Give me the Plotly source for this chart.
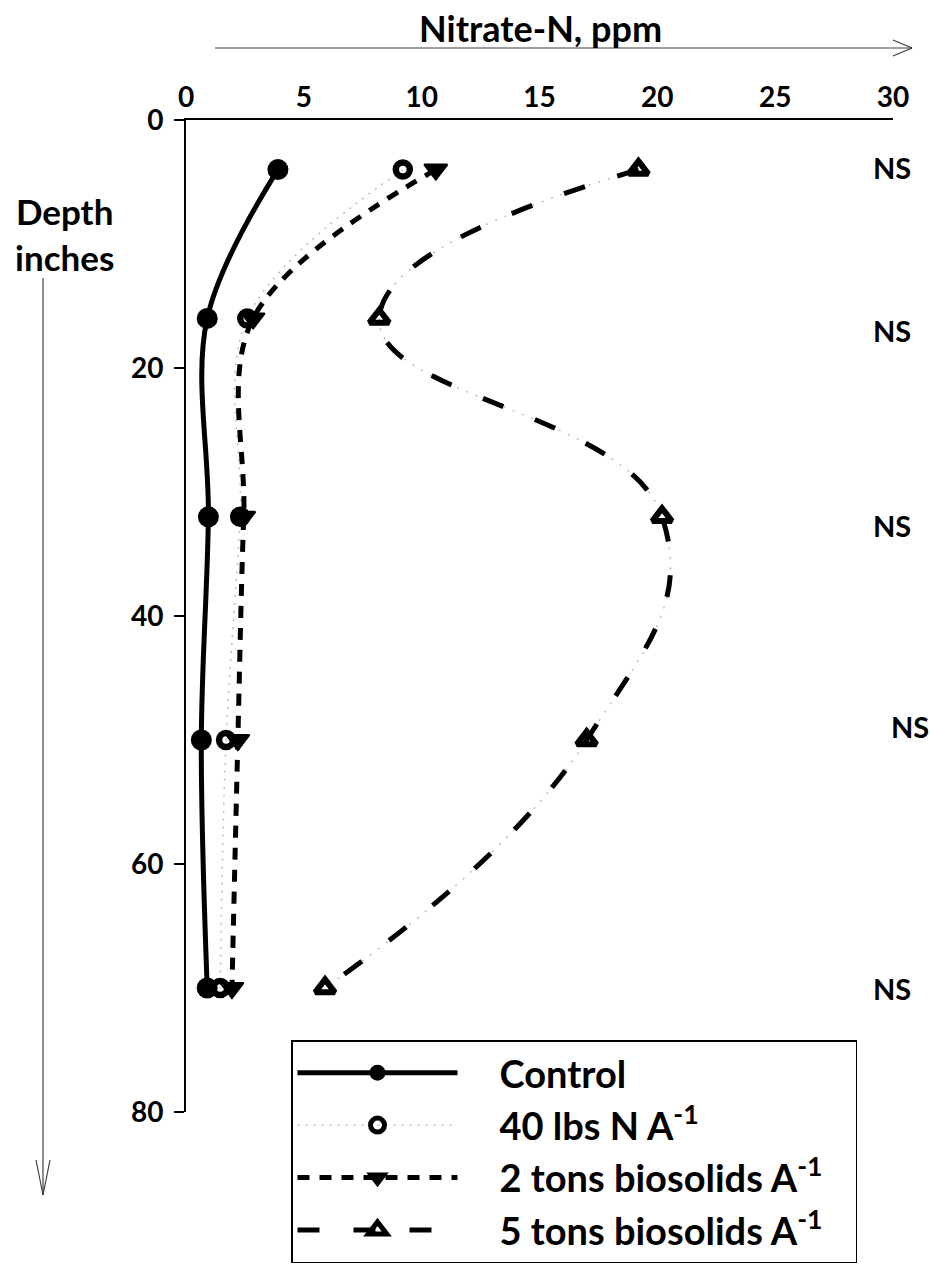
import plotly.graph_objects as go

# ---- data ----
depth = [4, 16, 32, 50, 70]
control = [3.9, 0.9, 0.95, 0.65, 0.9]
lbs40 = [9.2, 2.6, 2.3, 1.7, 1.45]
tons2 = [10.6, 2.85, 2.45, 2.2, 1.95]
tons5 = [19.2, 8.2, 20.2, 17.0, 5.9]
x_ticks = [0, 5, 10, 15, 20, 25, 30]
y_ticks = [0, 20, 40, 60, 80]
ns_labels = ["NS", "NS", "NS", "NS", "NS"]

FONT = "Lato"
W, H = 930, 1280
L, T = 186, 120
R = W - 893
B = H - 1112
PW, PH = W - L - R, H - T - B


def px(x):  # page pixel -> paper x
    return (x - L) / PW


def py(y):  # page pixel -> paper y
    return (H - B - y) / PH


SM = 1.3
fig = go.Figure()

fig.add_trace(go.Scatter(
    x=control, y=depth, name="Control", mode="lines+markers",
    line=dict(color="black", width=5, shape="spline", smoothing=1),
    marker=dict(symbol="circle", size=21, color="black"),
    legendgroup="a"))

fig.add_trace(go.Scatter(
    x=lbs40, y=depth, name="40 lbs N A<sup>-1</sup>", mode="lines+markers",
    line=dict(color="#bdbdbd", width=1.5, dash="2px,6px", shape="spline", smoothing=1),
    marker=dict(symbol="circle-open", size=14, color="black", line=dict(width=6.5, color="black")),
    legendgroup="b"))

fig.add_trace(go.Scatter(
    x=tons2, y=depth, name="2 tons biosolids A<sup>-1</sup>", mode="lines+markers",
    line=dict(color="black", width=5, dash="12px,10px", shape="spline", smoothing=1),
    marker=dict(symbol="triangle-down", size=20, color="black", line=dict(width=2, color="black")),
    legendgroup="c"))

# faint dotted companion of the 5-ton dash-dot line
fig.add_trace(go.Scatter(
    x=tons5, y=depth, mode="lines", showlegend=False, hoverinfo="skip",
    line=dict(color="#bdbdbd", width=1.5, dash="2px,8px", shape="spline", smoothing=SM)))

fig.add_trace(go.Scatter(
    x=tons5, y=depth, name="5 tons biosolids A<sup>-1</sup>", mode="lines+markers",
    line=dict(color="black", width=5, dash="22px,34px", shape="spline", smoothing=SM),
    marker=dict(symbol="triangle-up-open", size=17, color="black", line=dict(width=6, color="black")),
    legendgroup="d"))

fig.update_layout(
    width=W, height=H,
    margin=dict(l=L, r=R, t=T, b=B),
    plot_bgcolor="white", paper_bgcolor="white",
    font=dict(family=FONT, size=28, color="black", weight="bold"),
    showlegend=True,
    legend=dict(
        x=px(291), y=py(1040), xanchor="left", yanchor="top",
        bordercolor="black", borderwidth=1.5, bgcolor="white",
        font=dict(family=FONT, size=38, color="black", weight="bold"),
        itemwidth=160, tracegroupgap=1, traceorder="normal",
    ),
    xaxis=dict(
        side="top", range=[0, 30], tickvals=x_ticks, ticktext=[str(v) for v in x_ticks],
        showgrid=False, zeroline=False, showline=True, linecolor="black", linewidth=2,
        ticks="", ticklabelstandoff=0,
        tickfont=dict(family=FONT, size=28, color="black", weight="bold"),
    ),
    yaxis=dict(
        range=[80, 0], tickvals=y_ticks, ticktext=[str(v) for v in y_ticks],
        showgrid=False, zeroline=False, showline=True, linecolor="black", linewidth=2,
        ticks="outside", ticklen=10, tickwidth=2, tickcolor="black", ticklabelstandoff=5,
        tickfont=dict(family=FONT, size=28, color="black", weight="bold"),
    ),
)

# legend entries: pad the label away from the sample line (and widen the box a bit)
for tr in fig.data:
    if tr.showlegend is not False and tr.name:
        tr.name = "&nbsp;&nbsp;&nbsp;&nbsp;" + tr.name
fig.data[-1].name = fig.data[-1].name + "&nbsp;&nbsp;&nbsp;"

ann = []
ann.append(dict(text="Nitrate-N, ppm", x=px(540), y=py(28), xref="paper", yref="paper",
                xanchor="center", yanchor="middle",
                showarrow=False, font=dict(size=36, family=FONT, weight="bold")))
ann.append(dict(text="Depth<br>inches", x=px(64), y=py(234), xref="paper", yref="paper",
                xanchor="center", yanchor="middle",
                showarrow=False, align="center", font=dict(size=35, family=FONT, weight="bold")))
ns_x = [892, 892, 892, 910, 892]
ns_shift = [2, -12, -9, 14, 0]
for lab, d, nx, sh in zip(ns_labels, depth, ns_x, ns_shift):
    ann.append(dict(text=lab, x=px(nx), y=d, xref="paper", yref="y", yshift=sh,
                    xanchor="center", yanchor="middle",
                    showarrow=False, font=dict(size=29, family=FONT, weight="bold")))
fig.update_layout(annotations=ann)

shapes = []
lc = dict(color="#404040", width=1.2)
# horizontal arrow
shapes.append(dict(type="line", xref="paper", yref="paper", x0=px(215), x1=px(912), y0=py(48), y1=py(48), line=lc))
shapes.append(dict(type="line", xref="paper", yref="paper", x0=px(893), x1=px(912), y0=py(40), y1=py(48), line=lc))
shapes.append(dict(type="line", xref="paper", yref="paper", x0=px(893), x1=px(912), y0=py(56), y1=py(48), line=lc))
# vertical arrow
shapes.append(dict(type="line", xref="paper", yref="paper", x0=px(43), x1=px(43), y0=py(278), y1=py(1195), line=lc))
shapes.append(dict(type="line", xref="paper", yref="paper", x0=px(36), x1=px(43), y0=py(1160), y1=py(1195), line=lc))
shapes.append(dict(type="line", xref="paper", yref="paper", x0=px(50), x1=px(43), y0=py(1160), y1=py(1195), line=lc))
fig.update_layout(shapes=shapes)

fig.write_html(
    "out.html",
    config={"displayModeBar": False},
    post_script="document.body.style.margin='0';document.body.style.overflow='hidden';",
)
